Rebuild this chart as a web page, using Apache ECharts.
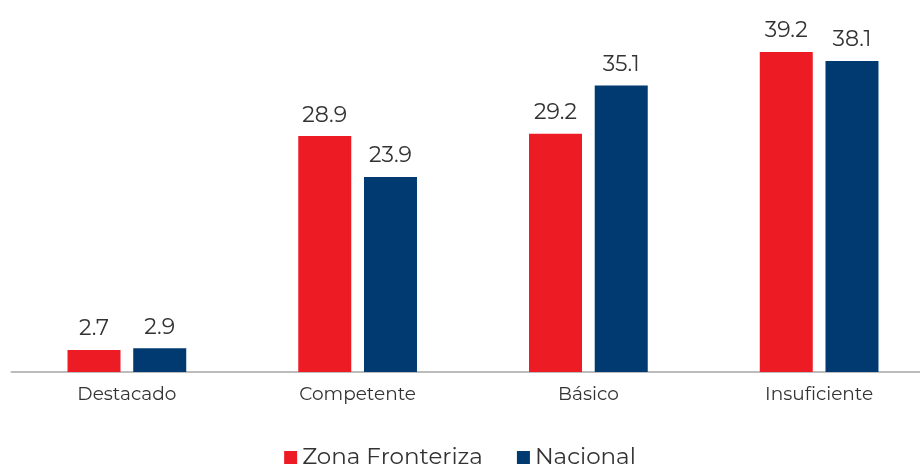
<!DOCTYPE html>
<html>
<head>
<meta charset="utf-8">
<script src="https://cdn.jsdelivr.net/npm/echarts@6/dist/echarts.min.js"></script>
<style>
  html, body { margin: 0; padding: 0; background: #fff; }
  #chart { width: 920px; height: 465px; }
</style>
</head>
<body>
<div id="chart"></div>
<script>
var categories = ['Destacado', 'Competente', 'Básico', 'Insuficiente'];
var zonaFronteriza = [2.7, 28.9, 29.2, 39.2];
var nacional = [2.9, 23.9, 35.1, 38.1];

var chart = echarts.init(document.getElementById('chart'));
var labelStyle = {
  show: true,
  position: 'top',
  distance: 10,
  color: '#333',
  fontSize: 22,
  fontFamily: 'Montserrat, "Open Sans", sans-serif'
};

chart.setOption({
  animation: false,
  textStyle: { fontFamily: 'Montserrat, "Open Sans", sans-serif' },
  grid: { left: 11.5, right: -14.5, top: 45.5, bottom: 93, outerBoundsMode: 'none' },
  legend: {
    bottom: -9,
    left: 'center',
    itemWidth: 13,
    itemHeight: 13,
    itemGap: 34,
    icon: 'rect',
    textStyle: { fontSize: 23, color: '#333' },
    data: ['Zona Fronteriza', 'Nacional']
  },
  xAxis: {
    type: 'category',
    data: categories,
    axisLine: { lineStyle: { color: '#bcbcbe', width: 2 } },
    axisTick: { show: false },
    axisLabel: { color: '#333', fontSize: 18.5, margin: 13 }
  },
  yAxis: {
    type: 'value',
    min: 0,
    max: 40,
    show: false,
    splitLine: { show: false }
  },
  series: [
    {
      name: 'Zona Fronteriza',
      type: 'bar',
      data: zonaFronteriza,
      barWidth: 53,
      barGap: '24%',
      itemStyle: { color: '#ed1c24' },
      label: labelStyle
    },
    {
      name: 'Nacional',
      type: 'bar',
      data: nacional,
      barWidth: 53,
      itemStyle: { color: '#003a70' },
      label: labelStyle
    }
  ]
});
</script>
</body>
</html>
